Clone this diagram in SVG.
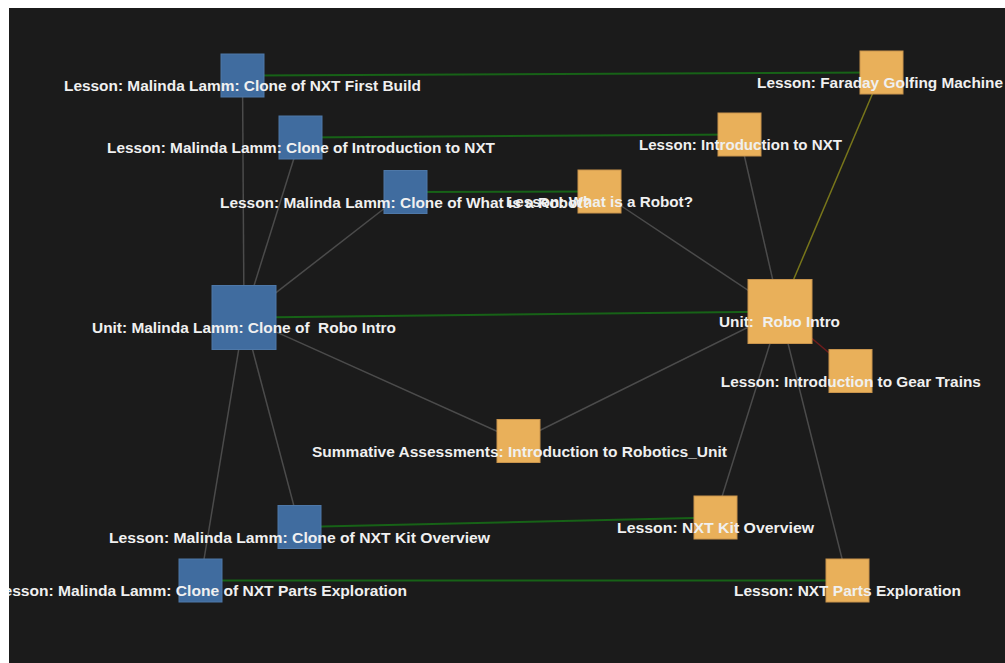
<svg xmlns="http://www.w3.org/2000/svg" width="1005" height="663" viewBox="0 0 1005 663">
<style>
.bg{fill:#1b1b1b}
.e{stroke:#4b4b4b;stroke-width:1.5;fill:none}
.g{stroke:#176217;stroke-width:2;fill:none}
.y{stroke:#78761a;stroke-width:1.5;fill:none}
.r{stroke:#6e1c1c;stroke-width:1.5;fill:none}
.b{fill:#406c9f;stroke:#4e78a8;stroke-width:1}
.o{fill:#e9b05a;stroke:#c9944c;stroke-width:1}
text{font-family:"Liberation Sans",Arial,sans-serif;font-weight:bold;font-size:14px;fill:#f0f0f0;text-anchor:middle;white-space:pre}
</style>
<rect x="0" y="0" width="1005" height="663" fill="#ffffff"/>
<rect class="bg" x="9" y="8" width="996" height="655"/>
<g id="connectors">
<line class="e" x1="244" y1="317.5" x2="242.5" y2="75.5"/>
<line class="e" x1="244" y1="317.5" x2="300.5" y2="137.5"/>
<line class="e" x1="244" y1="317.5" x2="405.5" y2="192"/>
<line class="e" x1="244" y1="317.5" x2="518.5" y2="441"/>
<line class="e" x1="244" y1="317.5" x2="299.5" y2="527"/>
<line class="e" x1="244" y1="317.5" x2="200.5" y2="580.5"/>
<line class="e" x1="780" y1="311.5" x2="739.5" y2="134.5"/>
<line class="e" x1="780" y1="311.5" x2="599.5" y2="191.5"/>
<line class="e" x1="780" y1="311.5" x2="518.5" y2="441"/>
<line class="e" x1="780" y1="311.5" x2="715.5" y2="517.5"/>
<line class="e" x1="780" y1="311.5" x2="847.5" y2="580.5"/>
<line class="y" x1="780" y1="311.5" x2="881.5" y2="72.5"/>
<line class="r" x1="780" y1="311.5" x2="850.5" y2="371"/>
<line class="g" x1="242.5" y1="75.5" x2="881.5" y2="72.5"/>
<line class="g" x1="300.5" y1="137.5" x2="739.5" y2="134.5"/>
<line class="g" x1="405.5" y1="192" x2="599.5" y2="191.5"/>
<line class="g" x1="244" y1="317.5" x2="780" y2="311.5"/>
<line class="g" x1="299.5" y1="527" x2="715.5" y2="517.5"/>
<line class="g" x1="200.5" y1="580.5" x2="847.5" y2="580.5"/>
</g>
<g id="n-faraday"><rect class="o" x="860" y="51" width="43" height="43"/><text x="880" y="88" textLength="246" lengthAdjust="spacingAndGlyphs">Lesson: Faraday Golfing Machine</text></g>
<g id="n-intro-nxt"><rect class="o" x="718" y="113" width="43" height="43"/><text x="740.5" y="150" textLength="203" lengthAdjust="spacingAndGlyphs">Lesson: Introduction to NXT</text></g>
<g id="n-what-robot"><rect class="o" x="578" y="170" width="43" height="43"/><text x="599.5" y="207" textLength="187" lengthAdjust="spacingAndGlyphs">Lesson: What is a Robot?</text></g>
<g id="n-unit-robo"><rect class="o" x="748" y="279.5" width="64" height="64"/><text x="779.5" y="327" textLength="121" lengthAdjust="spacingAndGlyphs" xml:space="preserve">Unit:  Robo Intro</text></g>
<g id="n-gear"><rect class="o" x="829" y="349.5" width="43" height="43"/><text x="850.8" y="386.5" textLength="260" lengthAdjust="spacingAndGlyphs">Lesson: Introduction to Gear Trains</text></g>
<g id="n-summative"><rect class="o" x="497" y="419.5" width="43" height="43"/><text x="519.5" y="456.5" textLength="415" lengthAdjust="spacingAndGlyphs">Summative Assessments: Introduction to Robotics_Unit</text></g>
<g id="n-kit"><rect class="o" x="694" y="496" width="43" height="43"/><text x="715.5" y="533" textLength="197" lengthAdjust="spacingAndGlyphs">Lesson: NXT Kit Overview</text></g>
<g id="n-parts"><rect class="o" x="826" y="559" width="43" height="43"/><text x="847.5" y="596" textLength="227" lengthAdjust="spacingAndGlyphs">Lesson: NXT Parts Exploration</text></g>
<g id="n-clone-first-build"><rect class="b" x="221" y="54" width="43" height="43"/><text x="242.5" y="91" textLength="357" lengthAdjust="spacingAndGlyphs">Lesson: Malinda Lamm: Clone of NXT First Build</text></g>
<g id="n-clone-intro-nxt"><rect class="b" x="279" y="116" width="43" height="43"/><text x="301" y="153" textLength="388" lengthAdjust="spacingAndGlyphs">Lesson: Malinda Lamm: Clone of Introduction to NXT</text></g>
<g id="n-clone-what-robot"><rect class="b" x="384" y="170.5" width="43" height="43"/><text x="406" y="207.5" textLength="372" lengthAdjust="spacingAndGlyphs">Lesson: Malinda Lamm: Clone of What is a Robot?</text></g>
<g id="n-clone-unit"><rect class="b" x="212" y="285.5" width="64" height="64"/><text x="244" y="333" textLength="304" lengthAdjust="spacingAndGlyphs" xml:space="preserve">Unit: Malinda Lamm: Clone of  Robo Intro</text></g>
<g id="n-clone-kit"><rect class="b" x="278" y="505.5" width="43" height="43"/><text x="299.5" y="542.5" textLength="381" lengthAdjust="spacingAndGlyphs">Lesson: Malinda Lamm: Clone of NXT Kit Overview</text></g>
<g id="n-clone-parts"><rect class="b" x="179" y="559" width="43" height="43"/><text x="200.5" y="596" textLength="413" lengthAdjust="spacingAndGlyphs">Lesson: Malinda Lamm: Clone of NXT Parts Exploration</text></g>
<rect x="0" y="0" width="9" height="663" fill="#ffffff"/>
</svg>
